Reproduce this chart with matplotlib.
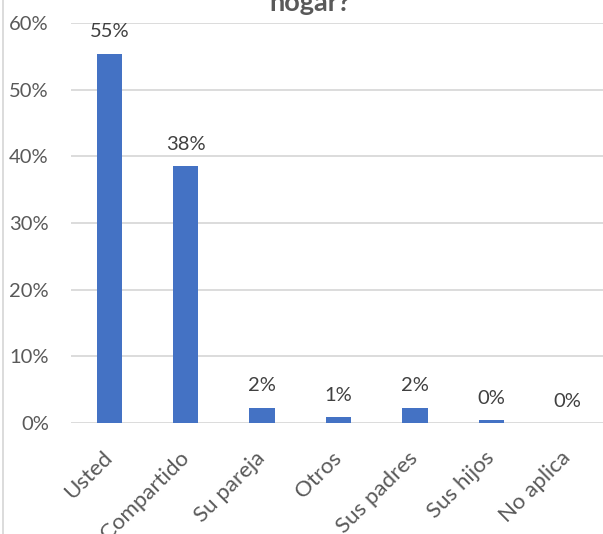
import numpy as np
import matplotlib.pyplot as plt
from matplotlib.lines import Line2D

plt.rcParams['font.family'] = ['Lato', 'DejaVu Sans']

categories = ['Usted', 'Compartido', 'Su pareja', 'Otros', 'Sus padres', 'Sus hijos', 'No aplica']
shares = [55.4, 38.5, 2.3, 0.9, 2.3, 0.4, 0.0]
labels = ['55%', '38%', '2%', '1%', '2%', '0%', '0%']

W, H = 603, 534
fig = plt.figure(figsize=(W / 100, H / 100), dpi=100)
# plot area in pixels: left 71, right ~606, 0% at y=423, 60% at y=23
ax = fig.add_axes([71 / W, 1 - 423 / H, (606 - 71) / W, (423 - 23) / H])

x = np.arange(len(categories))
ax.bar(x, shares, width=0.33, color='#4472C4', zorder=3)
for xi, v, lab in zip(x, shares, labels):
    ax.text(xi, v + 2.0, lab, ha='center', va='bottom', fontsize=14.5, color='#404040')

ax.set_ylim(0, 60)
ax.set_xlim(-0.5, 6.5)
ax.set_yticks(np.arange(0, 61, 10))
ax.set_yticklabels(['%d%%' % t for t in range(0, 61, 10)], fontsize=14.5, color='#595959')
ax.set_xticks(x)
ax.set_xticklabels(categories, rotation=45, ha='right', va='center', rotation_mode='anchor',
                   fontsize=16, color='#595959')
ax.grid(axis='y', color='#D9D9D9', linewidth=1.3, zorder=0)
for s in ax.spines.values():
    s.set_visible(False)
ax.tick_params(axis='x', length=0, pad=23)
ax.tick_params(axis='y', length=0, pad=16)

fig.text(310 / W, 1 - 11 / H, 'hogar?', ha='center', va='baseline', fontsize=19.5,
         fontweight='bold', color='#595959')
fig.add_artist(Line2D([3.5 / W, 3.5 / W], [0, 1], color='#D9D9D9', linewidth=1.3))

fig.savefig('out.png', dpi=100)
